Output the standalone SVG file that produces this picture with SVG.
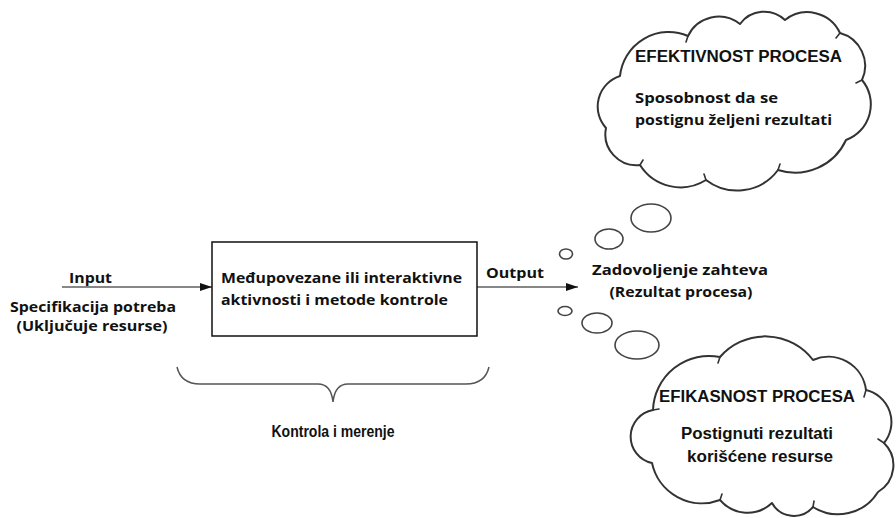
<svg xmlns="http://www.w3.org/2000/svg" width="896" height="518" viewBox="0 0 896 518">
  <style>
    .lbl { font-family: "Open Sans", "DejaVu Sans", sans-serif; font-weight: 700; font-size: 15px; fill: #111; }
    .cld { font-family: "Liberation Sans", Arial, sans-serif; font-weight: 700; font-size: 16px; fill: #111; }
    .cloud { fill: #fff; stroke: #333; stroke-width: 2; stroke-linejoin: round; }
    .tick { fill: none; stroke: #333; stroke-width: 1.6; stroke-linecap: round; }
    .bubble { fill: #fff; stroke: #444; stroke-width: 1.6; }
    .wire { stroke: #111; stroke-width: 1.2; fill: none; }
  </style>
  <defs>
    <marker id="arrow" viewBox="0 0 12 8" refX="12" refY="4" markerWidth="12" markerHeight="8" markerUnits="userSpaceOnUse" orient="auto">
      <path d="M0,0 L12,4 L0,8 z" fill="#111"/>
    </marker>
  </defs>
  <rect width="896" height="518" fill="#fff"/>

  <!-- connectors -->
  <g id="connectors">
    <line class="wire" x1="62" y1="287" x2="212" y2="287" marker-end="url(#arrow)"/>
    <line class="wire" x1="477" y1="287" x2="578" y2="287" marker-end="url(#arrow)"/>
    <path d="M177,367 Q181,384 200,384 L318,384 Q331,384 333,402 Q335,384 348,384 L466,384 Q485,384 489,367" fill="none" stroke="#555" stroke-width="1.5"/>
  </g>

  <!-- input -->
  <g id="input">
    <text class="lbl" x="69" y="283" textLength="43" lengthAdjust="spacingAndGlyphs">Input</text>
    <text class="lbl" x="93" y="312" text-anchor="middle" textLength="166" lengthAdjust="spacingAndGlyphs">Specifikacija potreba</text>
    <text class="lbl" x="92" y="331" text-anchor="middle" textLength="151" lengthAdjust="spacingAndGlyphs">(Uključuje resurse)</text>
  </g>

  <!-- process box -->
  <g id="process">
    <rect x="212" y="242" width="265" height="94" fill="#fff" stroke="#111" stroke-width="1.5"/>
    <text class="lbl" x="221" y="283" textLength="241" lengthAdjust="spacingAndGlyphs">Međupovezane ili interaktivne</text>
    <text class="lbl" x="221" y="305" textLength="227" lengthAdjust="spacingAndGlyphs">aktivnosti i metode kontrole</text>
  </g>

  <!-- output -->
  <g id="output">
    <text class="lbl" x="486" y="278" textLength="58" lengthAdjust="spacingAndGlyphs">Output</text>
    <text class="lbl" x="680" y="275" text-anchor="middle" textLength="176" lengthAdjust="spacingAndGlyphs">Zadovoljenje zahteva</text>
    <text class="lbl" x="681" y="297" text-anchor="middle" textLength="143" lengthAdjust="spacingAndGlyphs">(Rezultat procesa)</text>
  </g>

  <!-- control -->
  <g id="control">
    <text class="cld" x="333" y="437" text-anchor="middle" font-size="15" textLength="123" lengthAdjust="spacingAndGlyphs">Kontrola i merenje</text>
  </g>

  <!-- thought bubbles -->
  <g id="bubbles-top">
    <ellipse class="bubble" cx="566" cy="254" rx="6.5" ry="5"/>
    <ellipse class="bubble" cx="609" cy="239" rx="14" ry="10"/>
    <ellipse class="bubble" cx="651" cy="218" rx="20" ry="14"/>
  </g>
  <g id="bubbles-bottom">
    <ellipse class="bubble" cx="565" cy="311" rx="7" ry="4.5"/>
    <ellipse class="bubble" cx="597" cy="323" rx="15" ry="10"/>
    <ellipse class="bubble" cx="637" cy="345" rx="22" ry="14"/>
  </g>

  <!-- effectiveness cloud -->
  <g id="efektivnost">
    <path class="cloud" d="M620,76 A49 49 0 0 1 688,36 A34 34 0 0 1 740,24 A30 30 0 0 1 785,20 A36 36 0 0 1 840,33 A34 34 0 0 1 862,80 A38 38 0 0 1 846,140 A56 56 0 0 1 778,170 A51 51 0 0 1 706,180 A48 48 0 0 1 640,165 A31 31 0 0 1 606,128 A32 32 0 0 1 620,76 Z"/>
    <path class="tick" d="M688,36 l-2,6 M840,33 l-4,5 M862,80 l-6,3 M778,170 l2,-6 M706,180 l-2,-6 M640,165 l3,-5"/>
    <text class="cld" x="635" y="62" textLength="207" lengthAdjust="spacingAndGlyphs">EFEKTIVNOST PROCESA</text>
    <text class="lbl" x="635" y="103" textLength="143" lengthAdjust="spacingAndGlyphs">Sposobnost da se</text>
    <text class="lbl" x="635" y="125" textLength="197" lengthAdjust="spacingAndGlyphs">postignu željeni rezultati</text>
  </g>

  <!-- efficiency cloud -->
  <g id="efikasnost">
    <path class="cloud" d="M653,410 A56 56 0 0 1 720,357 A60 60 0 0 1 813,360 A38 38 0 0 1 866,390 A33 33 0 0 1 884,443 A31 31 0 0 1 878,492 A47 47 0 0 1 813,507 A25 25 0 0 1 772,503 A36 36 0 0 1 720,500 A51 51 0 0 1 652,463 A27 27 0 0 1 653,410 Z"/>
    <path class="tick" d="M720,357 l-2,6 M866,390 l-2,7 M884,443 l-6,-4 M813,507 l1,-6 M720,500 l2,-6 M653,410 l6,-1"/>
    <text class="cld" x="659" y="402" textLength="196" lengthAdjust="spacingAndGlyphs">EFIKASNOST PROCESA</text>
    <text class="cld" x="681" y="439" textLength="152" lengthAdjust="spacingAndGlyphs">Postignuti rezultati</text>
    <text class="cld" x="687" y="462" textLength="146" lengthAdjust="spacingAndGlyphs">korišćene resurse</text>
  </g>
</svg>
